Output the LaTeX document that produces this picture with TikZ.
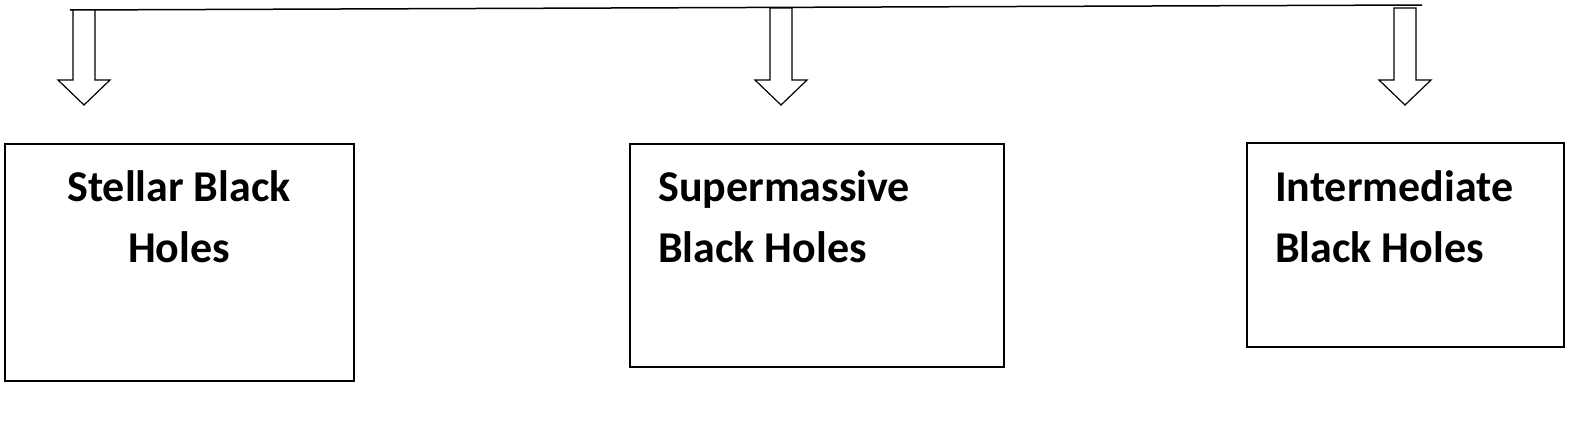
\documentclass[tikz,border=0pt]{standalone}
\usepackage{fontspec}
\setmainfont{Carlito}
\begin{document}
\begin{tikzpicture}[x=1pt,y=-1pt,
  box/.style={draw,line width=1.5pt,anchor=north west,inner sep=0pt},
  lbl/.style={font=\bfseries\fontsize{44}{61}\selectfont,anchor=north west,inner sep=0pt,align=left},
  barrow/.style={draw,line width=1.2pt,fill=white}]
\useasboundingbox (0,0) rectangle (1582,434);
\draw[line width=1.5pt] (70,10) -- (1422,5);
\foreach \x/\t in {84/10,781/8,1405/8}{
  \draw[barrow] (\x-11,\t) -- (\x+11,\t) -- (\x+11,80) -- (\x+26,80) -- (\x,105) -- (\x-26,80) -- (\x-11,80) -- cycle;
}
\node[box,minimum width=349pt,minimum height=237pt] (b1) at (4,143) {};
\node[box,minimum width=374pt,minimum height=223pt] (b2) at (629,143) {};
\node[box,minimum width=317pt,minimum height=204pt] (b3) at (1246,142) {};
\node[lbl,align=center,anchor=north] (t1) at (179,170) {Stellar Black\\Holes};
\node[lbl] (t2) at (658,170) {Supermassive\\Black Holes};
\node[lbl] (t3) at (1275,170) {Intermediate\\Black Holes};
\end{tikzpicture}
\end{document}
